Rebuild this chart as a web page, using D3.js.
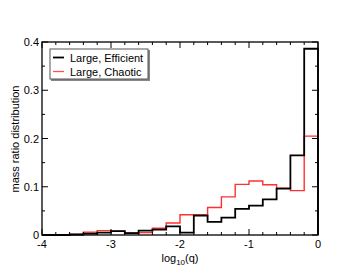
<!DOCTYPE html>
<html><head><meta charset="utf-8">
<script src="https://cdn.jsdelivr.net/npm/d3@7"></script>
<style>body{margin:0;background:#fff;} text{font-family:"Liberation Sans",Arial,sans-serif;}</style>
</head><body><svg id="c" width="358" height="277"></svg>
<script>
const binEdges = [-4,-3.8,-3.6,-3.4,-3.2,-3.0,-2.8,-2.6,-2.4,-2.2,-2.0,-1.8,-1.6,-1.4,-1.2,-1.0,-0.8,-0.6,-0.4,-0.2,0];
const efficient = [0,0,0.001,0.003,0.005,0.008,0.004,0.009,0.011,0.018,0.005,0.040,0.027,0.036,0.054,0.061,0.074,0.096,0.165,0.386];
const chaotic   = [0,0,0.001,0.006,0.009,0.008,0.004,0.005,0.014,0.025,0.042,0.042,0.057,0.079,0.105,0.112,0.104,0.097,0.092,0.205];
const xTicks = [-4,-3,-2,-1,0];
const yTicks = [0,0.1,0.2,0.3,0.4];
const seriesNames = ["Large, Efficient","Large, Chaotic"];

const svg = d3.select("#c");
const L=42,R=318,T=42,B=235;
const x = d3.scaleLinear().domain([-4,0]).range([L,R]);
const y = d3.scaleLinear().domain([0,0.4]).range([B,T]);

function stepPath(vals){
  const pts=[];
  vals.forEach((v,i)=>{pts.push([x(binEdges[i]),y(v)]);pts.push([x(binEdges[i+1]),y(v)]);});
  pts.push([x(0),y(0)]);
  return d3.line()(pts);
}
// red first (drawn under) then black
svg.append("path").attr("d",stepPath(chaotic)).attr("fill","none").attr("stroke","#ff3030").attr("stroke-width",1.4);
svg.append("path").attr("d",stepPath(efficient)).attr("fill","none").attr("stroke","#000").attr("stroke-width",1.8);

// frame
svg.append("rect").attr("x",L).attr("y",T).attr("width",R-L).attr("height",B-T).attr("fill","none").attr("stroke","#000").attr("stroke-width",1.3);

// ticks inward
const g=svg.append("g").attr("stroke","#000").attr("stroke-width",1);
d3.range(-4,0.001,0.2).forEach(v=>{
  const major=Math.abs(v-Math.round(v))<1e-6, len=major?6:3;
  g.append("line").attr("x1",x(v)).attr("x2",x(v)).attr("y1",B).attr("y2",B-len);
  g.append("line").attr("x1",x(v)).attr("x2",x(v)).attr("y1",T).attr("y2",T+len);
});
d3.range(0,0.4001,0.05).forEach(v=>{
  const major=Math.abs(v*10-Math.round(v*10))<1e-6, len=major?6:3;
  g.append("line").attr("x1",L).attr("x2",L+len).attr("y1",y(v)).attr("y2",y(v));
  g.append("line").attr("x1",R).attr("x2",R-len).attr("y1",y(v)).attr("y2",y(v));
});

svg.selectAll(".xt").data(xTicks).enter().append("text")
  .attr("x",d=>x(d)).attr("y",B+13).attr("text-anchor","middle").attr("font-size",11).text(d=>d);
svg.selectAll(".yt").data(yTicks).enter().append("text")
  .attr("x",L-3).attr("y",d=>y(d)+4).attr("text-anchor","end").attr("font-size",11).text(d=>d===0?"0":d.toFixed(1));

const xl=svg.append("text").attr("x",180).attr("y",262).attr("text-anchor","middle").attr("font-size",11);
xl.append("tspan").text("log");
xl.append("tspan").attr("font-size",8).attr("dy",3).text("10");
xl.append("tspan").attr("dy",-3).text("(q)");

svg.append("text").attr("transform","translate(19,139) rotate(-90)").attr("text-anchor","middle").attr("font-size",11).text("mass ratio distribution");

// legend
const lg=svg.append("g");
lg.append("rect").attr("x",51).attr("y",50).attr("width",99).attr("height",31).attr("fill","#888");
lg.append("rect").attr("x",50).attr("y",49).attr("width",98).attr("height",30).attr("fill","#fff").attr("stroke","#555").attr("stroke-width",1);
const cols=["#000","#ff5050"];
seriesNames.forEach((n,i)=>{
  const yy=57.5+i*14;
  lg.append("line").attr("x1",53).attr("x2",64).attr("y1",yy).attr("y2",yy).attr("stroke",cols[i]).attr("stroke-width",i?1.3:1.8);
  lg.append("text").attr("x",70).attr("y",yy+4).attr("font-size",11).text(n);
});
</script></body></html>
